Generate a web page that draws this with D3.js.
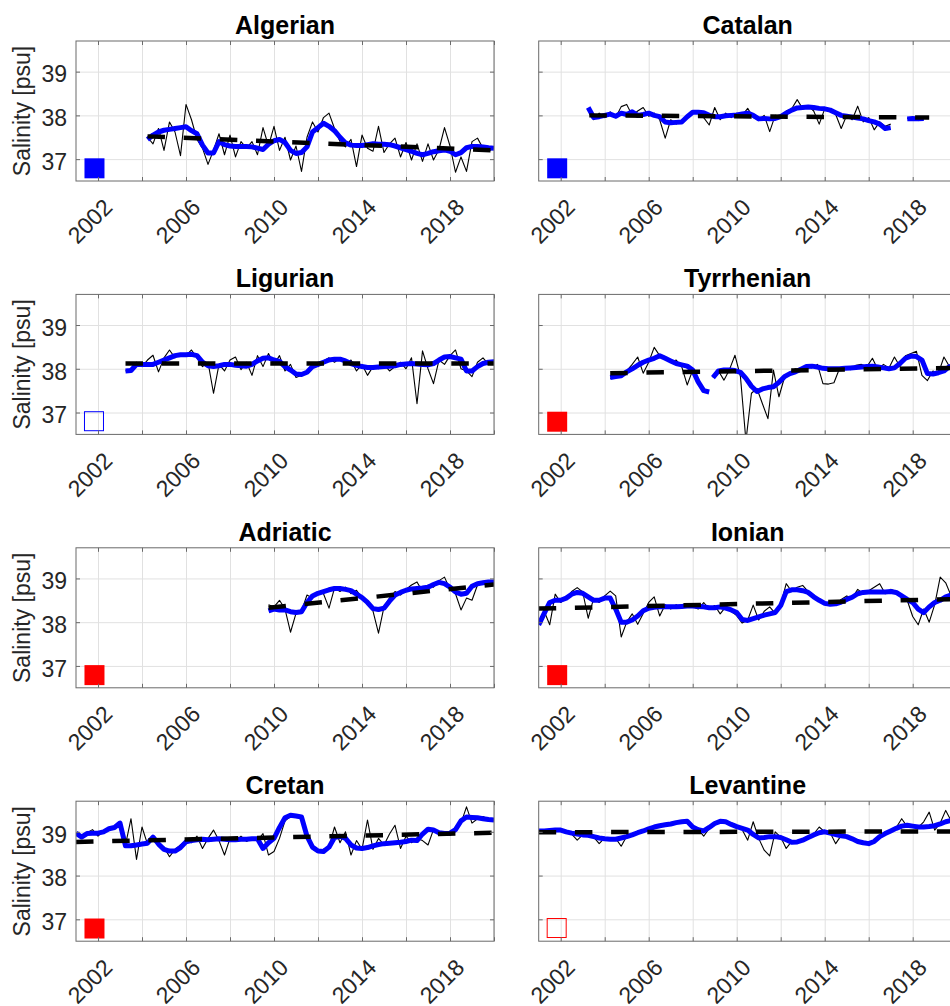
<!DOCTYPE html>
<html>
<head>
<meta charset="utf-8">
<script src="https://cdn.jsdelivr.net/npm/d3@7/dist/d3.min.js"></script>
<style>
    body { margin: 0; background: #fff; overflow: hidden; }
    svg { display: block; }
    text { font-family: 'Liberation Sans', Arial, Helvetica, sans-serif; fill: #262626; }
    .tick text { font-size: 23px; }
    .panel-title { font-size: 25px; font-weight: bold; fill: #000; }
    .y-label { font-size: 23px; }
</style>
</head>
<body>
<div id="chart"></div>
<script>
// all series are sampled every quarter year from their start year
const STEP = 0.25;

const regions = ['Algerian', 'Catalan', 'Ligurian', 'Tyrrhenian', 'Adriatic', 'Ionian', 'Cretan', 'Levantine'];
const markerColors = ['#0000ff', '#0000ff', '#0000ff', '#ff0000', '#ff0000', '#ff0000', '#ff0000', '#ff0000'];
const markerFilled = [true, true, false, true, true, true, true, false];
const markerPoint = [2001.84, 36.79];

const xTickYears = [2002, 2004, 2006, 2008, 2010, 2012, 2014, 2016, 2018, 2020];
const xLabelYears = [2002, 2006, 2010, 2014, 2018];
const yTickValues = [37, 38, 39];

// Algerian
const algerianStart = 2004.25;
const algerianRaw = [37.50, 37.35, 37.70, 37.20, 37.85, 37.62, 37.08, 38.25, 37.90, 37.45, 37.25, 36.88, 37.20, 37.58, 37.10, 37.55,
    37.05, 37.40, 37.25, 37.40, 37.10, 37.72, 37.30, 37.75, 37.20, 37.50, 36.98, 37.30, 36.72, 37.50, 37.85, 37.62,
    37.95, 38.05, 37.70, 37.40, 37.28, 37.45, 36.83, 37.55, 37.25, 37.18, 37.75, 37.15, 37.35, 37.48, 37.05, 37.38,
    36.98, 37.35, 36.95, 37.35, 36.98, 37.22, 37.72, 37.30, 36.70, 37.05, 36.72, 37.40, 37.48, 37.25, 37.18, 37.25];
const algerianSmooth = [37.45, 37.55, 37.62, 37.66, 37.68, 37.70, 37.72, 37.74, 37.65, 37.58, 37.32, 37.14, 37.14, 37.40, 37.33, 37.30,
    37.29, 37.29, 37.29, 37.28, 37.25, 37.22, 37.34, 37.42, 37.45, 37.38, 37.20, 37.13, 37.15, 37.28, 37.62, 37.72,
    37.82, 37.75, 37.65, 37.50, 37.37, 37.32, 37.31, 37.31, 37.33, 37.35, 37.34, 37.34, 37.33, 37.30, 37.26, 37.22,
    37.18, 37.13, 37.10, 37.13, 37.17, 37.19, 37.21, 37.18, 37.10, 37.15, 37.26, 37.29, 37.29, 37.28, 37.26, 37.25];
const algerianTrend = [[2004.25, 37.52], [2020, 37.20]];

// Catalan (record broken in 2017)
const catalanStartA = 2003.25;
const catalanStartB = 2017.75;
const catalanRawA = [38.15, 37.90, 38.05, 37.95, 38.08, 37.95, 38.20, 38.25, 38.00, 38.10, 38.18, 37.98, 38.05, 37.90, 37.48, 37.90,
    37.80, 37.88, 38.00, 38.05, 38.10, 37.95, 37.78, 38.18, 37.90, 38.05, 37.95, 38.05, 38.00, 38.16, 37.95, 37.90,
    38.00, 37.63, 38.00, 37.95, 38.10, 38.15, 38.36, 38.15, 38.22, 38.10, 37.80, 38.15, 38.10, 38.02, 37.70, 38.00,
    37.90, 38.21, 37.85, 37.95, 37.67, 37.85, 37.75, 37.80];
const catalanRawB = [37.93, 37.92, 37.94, 37.92];
const catalanSmoothA = [38.18, 37.95, 37.97, 38.00, 38.03, 37.98, 38.05, 38.02, 38.08, 38.00, 38.02, 38.05, 38.00, 37.97, 37.85, 37.83,
    37.84, 37.85, 37.97, 38.07, 38.07, 38.06, 38.00, 37.97, 37.97, 37.99, 38.00, 38.01, 38.03, 38.05, 38.00, 37.92,
    37.93, 37.92, 37.93, 37.97, 38.05, 38.12, 38.17, 38.18, 38.19, 38.18, 38.16, 38.15, 38.12, 38.06, 38.00, 37.98,
    37.96, 37.94, 37.92, 37.88, 37.85, 37.80, 37.70, 37.72];
const catalanSmoothB = [37.92, 37.93, 37.92, 37.93];
const catalanTrend = [[2003.3, 38.00], [2018.75, 37.95]];

// Ligurian
const ligurianStart = 2003.25;
const ligurianRaw = [37.95, 38.00, 38.15, 38.05, 38.20, 38.31, 37.93, 38.25, 38.43, 38.25, 38.35, 38.30, 38.43, 38.25, 38.05, 38.15,
    37.44, 38.10, 37.95, 38.20, 38.27, 37.98, 38.15, 37.85, 38.30, 38.05, 38.35, 38.10, 38.30, 37.95, 38.10, 37.80,
    37.85, 37.95, 38.10, 38.05, 38.18, 38.25, 38.15, 38.25, 38.10, 38.20, 37.95, 38.10, 37.85, 38.05, 38.00, 38.10,
    37.95, 38.05, 38.15, 38.00, 38.25, 37.20, 38.41, 38.00, 37.66, 38.20, 38.10, 38.30, 38.43, 38.00, 37.95, 37.82,
    38.15, 38.25, 38.10, 38.20];
const ligurianSmooth = [37.95, 37.96, 38.10, 38.10, 38.10, 38.10, 38.15, 38.20, 38.25, 38.30, 38.32, 38.32, 38.33, 38.30, 38.15, 38.07,
    38.05, 38.07, 38.10, 38.10, 38.08, 38.07, 38.06, 38.10, 38.18, 38.24, 38.25, 38.20, 38.17, 38.05, 37.97, 37.88,
    37.87, 37.92, 38.05, 38.10, 38.15, 38.20, 38.22, 38.22, 38.18, 38.12, 38.08, 38.05, 38.03, 38.03, 38.04, 38.05,
    38.06, 38.07, 38.10, 38.11, 38.12, 38.11, 38.10, 38.09, 38.12, 38.20, 38.27, 38.28, 38.25, 38.22, 37.95, 37.95,
    38.05, 38.12, 38.15, 38.16];
const ligurianTrend = [[2003.25, 38.12], [2020, 38.12]];

// Tyrrhenian (record broken in late 2008)
const tyrrhenianStartA = 2004.25;
const tyrrhenianStartB = 2008.92;
const tyrrhenianRawA = [37.78, 37.85, 37.80, 37.95, 38.10, 38.27, 37.90, 38.15, 38.49, 38.30, 38.28, 38.15, 38.20, 38.05, 37.63, 37.97,
    37.70];
const tyrrhenianRawB = [37.80, 37.95, 37.74, 37.98, 38.31, 37.82, 36.35, 37.44, 37.55, 37.20, 36.86, 37.97, 37.36, 37.80, 37.92, 38.00,
    37.95, 38.05, 38.02, 38.10, 37.66, 37.65, 37.68, 38.00, 38.05, 37.98, 38.08, 38.10, 38.05, 38.24, 37.98, 38.10,
    38.02, 38.27, 38.05, 38.30, 38.35, 38.40, 37.85, 37.73, 37.95, 37.90, 38.27, 38.05, 38.10];
const tyrrhenianSmoothA = [37.80, 37.82, 37.84, 37.93, 38.00, 38.08, 38.15, 38.20, 38.24, 38.30, 38.24, 38.18, 38.12, 38.09, 38.06, 37.97,
    37.70, 37.50, 37.47];
const tyrrhenianSmoothB = [37.80, 37.95, 37.97, 37.97, 37.96, 37.92, 37.78, 37.60, 37.48, 37.54, 37.57, 37.59, 37.69, 37.82, 37.89, 37.93,
    37.99, 38.05, 38.06, 38.04, 38.01, 38.00, 38.00, 38.00, 38.01, 38.02, 38.03, 38.04, 38.05, 38.06, 38.04, 38.02,
    38.00, 38.02, 38.12, 38.24, 38.29, 38.28, 38.20, 37.89, 37.88, 37.91, 37.95, 38.05, 38.08];
const tyrrhenianTrend = [[2004.25, 37.90], [2020, 38.02]];

// Adriatic
const adriaticStart = 2009.75;
const adriaticRaw = [38.40, 38.35, 38.50, 38.30, 37.77, 38.20, 38.25, 38.62, 38.55, 38.70, 38.65, 38.32, 38.78, 38.70, 38.80, 38.65,
    38.73, 38.55, 38.45, 38.25, 37.75, 38.35, 38.55, 38.70, 38.62, 38.75, 38.85, 38.92, 38.70, 38.85, 38.80, 38.95,
    39.03, 38.75, 38.65, 38.28, 38.55, 38.50, 38.85, 38.90, 38.95, 38.92];
const adriaticSmooth = [38.26, 38.30, 38.28, 38.28, 38.24, 38.22, 38.24, 38.45, 38.60, 38.66, 38.70, 38.74, 38.77, 38.77, 38.75, 38.72,
    38.64, 38.56, 38.45, 38.31, 38.29, 38.32, 38.48, 38.62, 38.68, 38.73, 38.76, 38.77, 38.78, 38.80, 38.86, 38.91,
    38.88, 38.80, 38.69, 38.64, 38.66, 38.82, 38.88, 38.90, 38.92, 38.92];
const adriaticTrend = [[2009.75, 38.33], [2020, 38.86]];

// Ionian
const ionianStart = 2001.0;
const ionianRaw = [37.94, 38.25, 37.94, 38.64, 38.45, 38.55, 38.70, 38.79, 38.69, 38.09, 38.55, 38.45, 38.60, 38.71, 38.60, 37.66,
    38.00, 38.19, 37.95, 38.20, 38.45, 38.58, 38.14, 38.40, 38.30, 38.40, 38.32, 38.42, 38.35, 38.30, 38.45, 38.30,
    38.38, 38.19, 38.35, 38.25, 38.15, 37.98, 38.05, 38.39, 38.05, 38.25, 38.35, 38.20, 38.40, 38.88, 38.70, 38.80,
    38.84, 38.70, 38.55, 38.50, 38.40, 38.48, 38.40, 38.52, 38.60, 38.55, 38.75, 38.65, 38.72, 38.80, 38.88, 38.65,
    38.75, 38.70, 38.55, 38.50, 38.13, 37.94, 38.30, 38.00, 38.40, 39.03, 38.90, 38.60, 38.65];
const ionianSmooth = [37.94, 38.20, 38.45, 38.50, 38.50, 38.55, 38.64, 38.68, 38.66, 38.58, 38.50, 38.50, 38.55, 38.55, 38.30, 38.00,
    38.00, 38.05, 38.14, 38.26, 38.32, 38.34, 38.35, 38.35, 38.35, 38.35, 38.36, 38.37, 38.37, 38.36, 38.35, 38.33,
    38.33, 38.35, 38.32, 38.28, 38.22, 38.06, 38.04, 38.08, 38.12, 38.16, 38.19, 38.22, 38.38, 38.70, 38.74, 38.74,
    38.72, 38.68, 38.58, 38.50, 38.43, 38.41, 38.42, 38.46, 38.52, 38.57, 38.65, 38.68, 38.69, 38.69, 38.69, 38.69,
    38.70, 38.68, 38.60, 38.52, 38.45, 38.30, 38.22, 38.35, 38.45, 38.50, 38.58, 38.62, 38.63];
const ionianTrend = [[2001.0, 38.31], [2020, 38.53]];

// Cretan
const cretanStart = 2001.0;
const cretanRaw = [38.95, 38.85, 38.98, 39.05, 38.90, 39.02, 39.05, 39.12, 39.10, 38.70, 39.30, 38.37, 39.11, 38.72, 38.85, 38.70,
    38.65, 38.43, 38.60, 38.70, 38.80, 38.75, 38.90, 38.62, 38.85, 39.04, 38.80, 38.47, 38.85, 38.80, 38.90, 38.78,
    38.85, 38.80, 38.96, 38.47, 38.55, 38.85, 39.25, 39.35, 39.35, 39.30, 38.85, 38.60, 38.55, 38.60, 38.65, 39.11,
    38.75, 39.00, 38.47, 38.80, 38.60, 39.27, 38.60, 38.85, 38.70, 38.95, 39.15, 38.62, 38.90, 38.75, 38.85, 38.80,
    38.70, 39.05, 38.95, 39.00, 38.92, 39.05, 39.20, 39.57, 39.20, 39.30, 39.35, 39.28, 39.25];
const cretanSmooth = [38.97, 38.88, 38.96, 38.97, 38.97, 39.00, 39.07, 39.10, 39.20, 38.68, 38.68, 38.70, 38.72, 38.74, 38.88, 38.72,
    38.60, 38.56, 38.56, 38.64, 38.77, 38.80, 38.82, 38.83, 38.82, 38.83, 38.84, 38.83, 38.82, 38.82, 38.83, 38.83,
    38.84, 38.84, 38.62, 38.75, 38.85, 39.10, 39.32, 39.38, 39.36, 39.34, 38.90, 38.65, 38.56, 38.55, 38.65, 38.87,
    38.90, 38.85, 38.70, 38.63, 38.62, 38.64, 38.68, 38.71, 38.73, 38.74, 38.75, 38.76, 38.78, 38.81, 38.80, 38.95,
    39.06, 39.04, 38.98, 38.96, 38.97, 39.05, 39.25, 39.34, 39.33, 39.32, 39.30, 39.28, 39.27];
const cretanTrend = [[2001.0, 38.77], [2020, 38.98]];

// Levantine
const levantineStart = 2001.0;
const levantineRaw = [39.02, 39.04, 39.06, 39.02, 39.05, 38.98, 38.95, 38.81, 38.93, 38.95, 38.88, 38.73, 38.86, 38.82, 38.85, 38.67,
    38.90, 38.92, 38.98, 39.03, 39.06, 39.12, 39.13, 39.18, 39.16, 39.22, 39.24, 39.28, 39.12, 39.05, 38.90, 39.08,
    39.18, 39.28, 39.22, 39.16, 39.10, 39.05, 38.81, 39.23, 38.85, 38.58, 38.45, 39.00, 38.88, 38.62, 38.78, 38.75,
    38.82, 38.88, 38.95, 39.11, 39.00, 38.98, 38.73, 38.92, 38.88, 38.85, 38.78, 38.76, 38.74, 38.80, 38.90, 38.97,
    39.03, 39.10, 39.30, 39.12, 39.15, 39.10, 39.23, 39.45, 39.04, 39.20, 39.49, 39.25, 39.30];
const levantineSmooth = [39.02, 39.02, 39.03, 39.04, 39.04, 39.00, 38.97, 38.95, 38.93, 38.92, 38.89, 38.86, 38.84, 38.83, 38.83, 38.86,
    38.89, 38.93, 38.98, 39.02, 39.07, 39.11, 39.14, 39.16, 39.18, 39.21, 39.23, 39.24, 39.11, 39.05, 39.02, 39.10,
    39.19, 39.24, 39.23, 39.17, 39.12, 39.08, 39.04, 38.94, 38.86, 38.87, 38.89, 38.89, 38.87, 38.82, 38.76, 38.77,
    38.81, 38.87, 38.93, 38.98, 39.00, 38.97, 38.94, 38.91, 38.89, 38.84, 38.78, 38.75, 38.73, 38.78, 38.89, 38.96,
    39.02, 39.08, 39.13, 39.15, 39.13, 39.11, 39.11, 39.12, 39.14, 39.18, 39.23, 39.26, 39.28];
const levantineTrend = [[2001.0, 38.99], [2020, 39.01]];

// segment lists: [start year, values]
const rawSeries = [
    [[algerianStart, algerianRaw]],
    [[catalanStartA, catalanRawA], [catalanStartB, catalanRawB]],
    [[ligurianStart, ligurianRaw]],
    [[tyrrhenianStartA, tyrrhenianRawA], [tyrrhenianStartB, tyrrhenianRawB]],
    [[adriaticStart, adriaticRaw]],
    [[ionianStart, ionianRaw]],
    [[cretanStart, cretanRaw]],
    [[levantineStart, levantineRaw]]
];
const smoothSeries = [
    [[algerianStart, algerianSmooth]],
    [[catalanStartA, catalanSmoothA], [catalanStartB, catalanSmoothB]],
    [[ligurianStart, ligurianSmooth]],
    [[tyrrhenianStartA, tyrrhenianSmoothA], [tyrrhenianStartB, tyrrhenianSmoothB]],
    [[adriaticStart, adriaticSmooth]],
    [[ionianStart, ionianSmooth]],
    [[cretanStart, cretanSmooth]],
    [[levantineStart, levantineSmooth]]
];
const trends = [algerianTrend, catalanTrend, ligurianTrend, tyrrhenianTrend, adriaticTrend, ionianTrend, cretanTrend, levantineTrend];

function toPoints(segment) {
    const [start, values] = segment;
    return values.map((v, i) => [start + i * STEP, v]);
}

function salinityPanelD3() {
    let width = 418,
        height = 140,
        id = '',
        title = '',
        showYLabels = true,
        raw = [],
        smooth = [],
        trend = [],
        markerColor = '#0000ff',
        filled = true;

    function chart(selection) {
        selection.each(function () {
            const g = d3.select(this);

            const xScale = d3.scaleLinear().domain([2001, 2020]).range([0, width]);
            const yScale = d3.scaleLinear().domain([36.5, 39.7]).range([height, 0]);

            g.append('defs').append('clipPath')
                .attr('id', `clip_${id}`)
                .append('rect')
                .attr('width', width)
                .attr('height', height);

            // grid
            const gridX = g.append('g')
                .call(d3.axisBottom(xScale).tickValues(xTickYears).tickSize(height).tickFormat(''));
            const gridY = g.append('g')
                .call(d3.axisLeft(yScale).tickValues(yTickValues).tickSize(-width).tickFormat(''));
            [gridX, gridY].forEach(a => {
                a.select('.domain').remove();
                a.selectAll('line').attr('stroke', '#e1e1e1').attr('stroke-width', 1);
            });

            const line = d3.line()
                .defined(d => d[1] != null)
                .x(d => xScale(d[0]))
                .y(d => yScale(d[1]));

            const plot = g.append('g').attr('clip-path', `url(#clip_${id})`);

            plot.selectAll('.raw')
                .data(raw.map(toPoints))
                .enter()
                .append('path')
                .attr('class', 'raw')
                .attr('d', line)
                .attr('fill', 'none')
                .attr('stroke', '#000')
                .attr('stroke-width', 1.1)
                .attr('stroke-linejoin', 'round');

            plot.selectAll('.smooth')
                .data(smooth.map(toPoints))
                .enter()
                .append('path')
                .attr('class', 'smooth')
                .attr('d', line)
                .attr('fill', 'none')
                .attr('stroke', '#0000ff')
                .attr('stroke-width', 5)
                .attr('stroke-linejoin', 'round');

            plot.append('path')
                .datum(trend)
                .attr('d', line)
                .attr('fill', 'none')
                .attr('stroke', '#000')
                .attr('stroke-width', 4.5)
                .attr('stroke-dasharray', '17.5,18.7');

            // region marker
            const ms = 20;
            g.append('rect')
                .attr('x', xScale(markerPoint[0]) - ms / 2)
                .attr('y', yScale(markerPoint[1]) - ms / 2)
                .attr('width', filled ? ms : ms - 1)
                .attr('height', filled ? ms : ms - 1)
                .attr('fill', filled ? markerColor : 'none')
                .attr('stroke', markerColor)
                .attr('stroke-width', filled ? 0 : 1);

            // axes with inward ticks
            const axisColor = '#6a6a6a';
            const xAxis = g.append('g')
                .attr('transform', `translate(0,${height})`)
                .call(d3.axisBottom(xScale).tickValues(xTickYears).tickSize(-4)
                    .tickFormat(d => xLabelYears.includes(d) ? d : ''));
            xAxis.selectAll('text')
                .attr('x', 0)
                .attr('y', 0)
                .attr('dy', '0.35em')
                .attr('transform', 'translate(9.5,22) rotate(-45)')
                .style('text-anchor', 'end');

            const xTop = g.append('g')
                .call(d3.axisTop(xScale).tickValues(xTickYears).tickSize(-4).tickFormat(''));

            const yAxis = g.append('g')
                .call(d3.axisLeft(yScale).tickValues(yTickValues).tickSize(-4).tickPadding(9)
                    .tickFormat(d => showYLabels ? d : ''));
            yAxis.selectAll('text').attr('dy', '0.45em');

            const yRight = g.append('g')
                .attr('transform', `translate(${width},0)`)
                .call(d3.axisRight(yScale).tickValues(yTickValues).tickSize(-4).tickFormat(''));

            [xAxis, xTop, yAxis, yRight].forEach(a => {
                a.attr('font-family', null).attr('font-size', null);
                a.select('.domain').remove();
                a.selectAll('line').attr('stroke', axisColor);
            });

            g.append('rect')
                .attr('width', width)
                .attr('height', height)
                .attr('fill', 'none')
                .attr('stroke', axisColor)
                .attr('stroke-width', 1);

            g.append('text')
                .attr('class', 'panel-title')
                .attr('x', width / 2)
                .attr('y', -7)
                .attr('text-anchor', 'middle')
                .text(title);

            if (showYLabels) {
                g.append('text')
                    .attr('class', 'y-label')
                    .attr('transform', `translate(-46,${height / 2}) rotate(-90)`)
                    .attr('text-anchor', 'middle')
                    .text('Salinity [psu]');
            }
        });
    }

    chart.id = function (value) { if (!arguments.length) return id; id = value; return chart; };
    chart.width = function (value) { if (!arguments.length) return width; width = value; return chart; };
    chart.height = function (value) { if (!arguments.length) return height; height = value; return chart; };
    chart.title = function (value) { if (!arguments.length) return title; title = value; return chart; };
    chart.showYLabels = function (value) { if (!arguments.length) return showYLabels; showYLabels = value; return chart; };
    chart.raw = function (value) { if (!arguments.length) return raw; raw = value; return chart; };
    chart.smooth = function (value) { if (!arguments.length) return smooth; smooth = value; return chart; };
    chart.trend = function (value) { if (!arguments.length) return trend; trend = value; return chart; };
    chart.markerColor = function (value) { if (!arguments.length) return markerColor; markerColor = value; return chart; };
    chart.filled = function (value) { if (!arguments.length) return filled; filled = value; return chart; };

    return chart;
}

const svg = d3.select('#chart').append('svg')
    .attr('width', 950)
    .attr('height', 1006);

const colX = [76, 538.7];
const rowTop = r => 41 + r * 253.4;

regions.forEach((name, i) => {
    const col = i % 2, row = Math.floor(i / 2);
    const panel = salinityPanelD3()
        .id(name.toLowerCase())
        .title(name)
        .showYLabels(col === 0)
        .raw(rawSeries[i])
        .smooth(smoothSeries[i])
        .trend(trends[i])
        .markerColor(markerColors[i])
        .filled(markerFilled[i]);

    svg.append('g')
        .attr('transform', `translate(${colX[col]},${rowTop(row)})`)
        .call(panel);
});
</script>
</body>
</html>
